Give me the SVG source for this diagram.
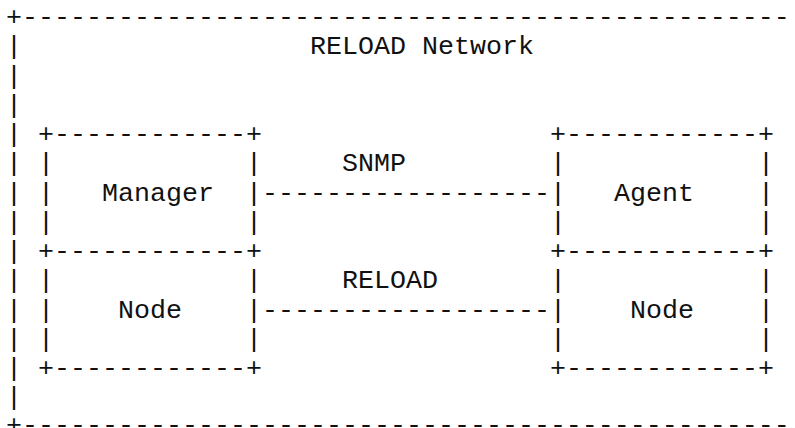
<svg xmlns="http://www.w3.org/2000/svg" width="795" height="428" viewBox="0 0 795 428">
  <style>
    text { font-family: "Liberation Mono", "Courier New", monospace; font-size: 26.67px; fill: #111; white-space: pre; }
  </style>
  <rect width="795" height="428" fill="#fff"/>

  <!-- enclosing RELOAD network frame -->
  <g id="reload-network">
    <text x="6" y="25">+------------------------------------------------</text>
    <text x="310" y="54.25">RELOAD Network</text>
    <text x="6" y="54.25">|</text>
    <text x="6" y="83.5">|</text>
    <text x="6" y="112.75">|</text>
    <text x="6" y="142">|</text>
    <text x="6" y="171.25">|</text>
    <text x="6" y="200.5">|</text>
    <text x="6" y="229.75">|</text>
    <text x="6" y="259">|</text>
    <text x="6" y="288.25">|</text>
    <text x="6" y="317.5">|</text>
    <text x="6" y="346.75">|</text>
    <text x="6" y="376">|</text>
    <text x="6" y="405.25">|</text>
    <text x="6" y="433">+------------------------------------------------</text>
  </g>

  <!-- left column: Manager on top of Node -->
  <g id="manager">
    <text x="38" y="142">+------------+</text>
    <text x="38" y="171.25">|</text><text x="246" y="171.25">|</text>
    <text x="38" y="200.5">|</text><text x="246" y="200.5">|</text>
    <text x="38" y="229.75">|</text><text x="246" y="229.75">|</text>
    <text x="102" y="200.5">Manager</text>
    <text x="38" y="259">+------------+</text>
  </g>
  <g id="node-left">
    <text x="38" y="288.25">|</text><text x="246" y="288.25">|</text>
    <text x="38" y="317.5">|</text><text x="246" y="317.5">|</text>
    <text x="38" y="346.75">|</text><text x="246" y="346.75">|</text>
    <text x="118" y="317.5">Node</text>
    <text x="38" y="376">+------------+</text>
  </g>

  <!-- right column: Agent on top of Node -->
  <g id="agent">
    <text x="550" y="142">+------------+</text>
    <text x="550" y="171.25">|</text><text x="758" y="171.25">|</text>
    <text x="550" y="200.5">|</text><text x="758" y="200.5">|</text>
    <text x="550" y="229.75">|</text><text x="758" y="229.75">|</text>
    <text x="614" y="200.5">Agent</text>
    <text x="550" y="259">+------------+</text>
  </g>
  <g id="node-right">
    <text x="550" y="288.25">|</text><text x="758" y="288.25">|</text>
    <text x="550" y="317.5">|</text><text x="758" y="317.5">|</text>
    <text x="550" y="346.75">|</text><text x="758" y="346.75">|</text>
    <text x="630" y="317.5">Node</text>
    <text x="550" y="376">+------------+</text>
  </g>

  <!-- links between the columns -->
  <g id="connectors">
    <text x="342" y="171.25">SNMP</text>
    <text x="262" y="200.5">------------------</text>
    <text x="342" y="288.25">RELOAD</text>
    <text x="262" y="317.5">------------------</text>
  </g>
</svg>
